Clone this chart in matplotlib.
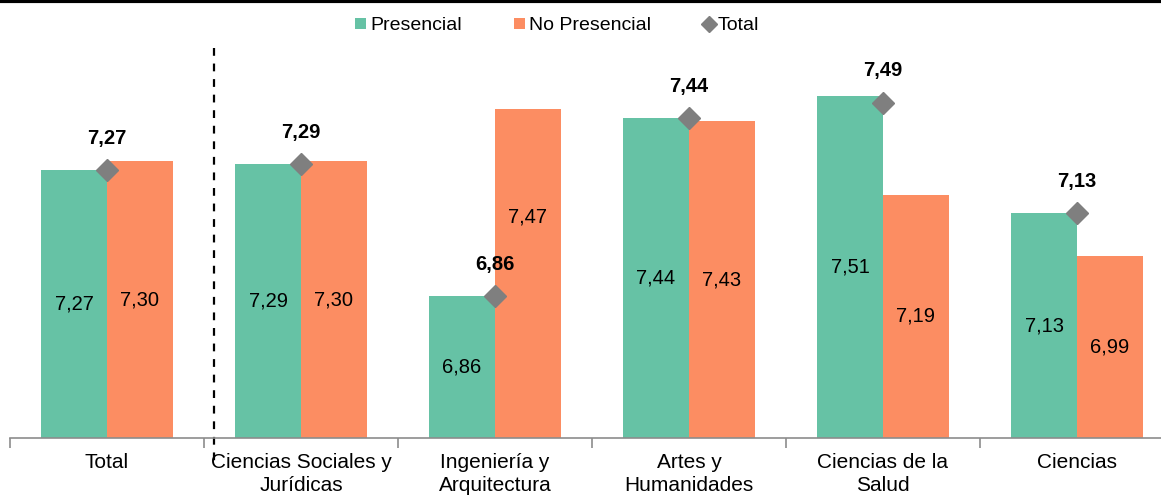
import matplotlib
matplotlib.use('Agg')
import matplotlib.pyplot as plt
import numpy as np

plt.rcParams['font.family'] = ['Liberation Sans', 'DejaVu Sans']

categories = ['Total', 'Ciencias Sociales y\nJurídicas', 'Ingeniería y\nArquitectura',
              'Artes y\nHumanidades', 'Ciencias de la\nSalud', 'Ciencias']
presencial = [7.27, 7.29, 6.86, 7.44, 7.51, 7.13]
no_presencial = [7.30, 7.30, 7.47, 7.43, 7.19, 6.99]
total = [7.27, 7.29, 6.86, 7.44, 7.49, 7.13]

green = '#66C2A5'
orange = '#FC8D62'
grey = '#7F7F7F'

fig = plt.figure(figsize=(11.61, 4.97), dpi=100)
ax = fig.add_axes([10 / 1161, 59 / 497, 1 - 10 / 1161, 400 / 497])

x = np.arange(len(categories))
w = 0.34
base = 6.4
b1 = ax.bar(x - w / 2, np.array(presencial) - base, w, bottom=base, color=green, label='Presencial')
b2 = ax.bar(x + w / 2, np.array(no_presencial) - base, w, bottom=base, color=orange, label='No Presencial')
m, = ax.plot(x, total, linestyle='none', marker='D', ms=11, color=grey, label='Total')

for i in range(len(categories)):
    ax.text(x[i] - w / 2, (base + presencial[i]) / 2, f'{presencial[i]:.2f}'.replace('.', ','),
            ha='center', va='center', fontsize=14.5)
    ypos = (base + no_presencial[i]) / 2
    if i == 2:
        ypos = 7.118
    ax.text(x[i] + w / 2, ypos, f'{no_presencial[i]:.2f}'.replace('.', ','),
            ha='center', va='center', fontsize=14.5)
    ax.annotate(f'{total[i]:.2f}'.replace('.', ','), (x[i], total[i]), xytext=(0, 23),
                textcoords='offset points', ha='center', va='center',
                fontsize=14.5, fontweight='bold')

for s in ['top', 'right', 'left']:
    ax.spines[s].set_visible(False)
ax.spines['bottom'].set_color('#8C8C8C')
ax.spines['bottom'].set_linewidth(1.2)
ax.set_yticks([])
ax.set_xticks(np.arange(-0.5, 6, 1))
ax.set_xticklabels([])
ax.set_xticks(x, minor=True)
ax.set_xticklabels(categories, minor=True, fontsize=15, linespacing=1.25)
ax.tick_params(axis='x', which='major', length=7, width=1.2, color='#8C8C8C', direction='out')
ax.tick_params(axis='x', which='minor', length=0, pad=11)

ax.set_ylim(base, 7.7)
ax.set_xlim(-0.5, 5.433)

# separator between Total and the fields
ax.plot([0.55, 0.55], [0.975, -0.068], transform=ax.get_xaxis_transform(),
        color='black', lw=1.6, linestyle=(0, (3.5, 3.5)), clip_on=False)

fig.legend([b1, b2, m], ['Presencial', 'No Presencial', 'Total'],
           loc='upper center', bbox_to_anchor=(0.48, 1.0), ncol=3, frameon=False,
           fontsize=14, handlelength=0.55, handleheight=0.55, handletextpad=0.2,
           columnspacing=2.7, markerscale=0.75)

fig.add_artist(plt.Line2D([0, 1], [0.997, 0.997], color='black', lw=3, transform=fig.transFigure))

fig.savefig('out.png', dpi=100)
